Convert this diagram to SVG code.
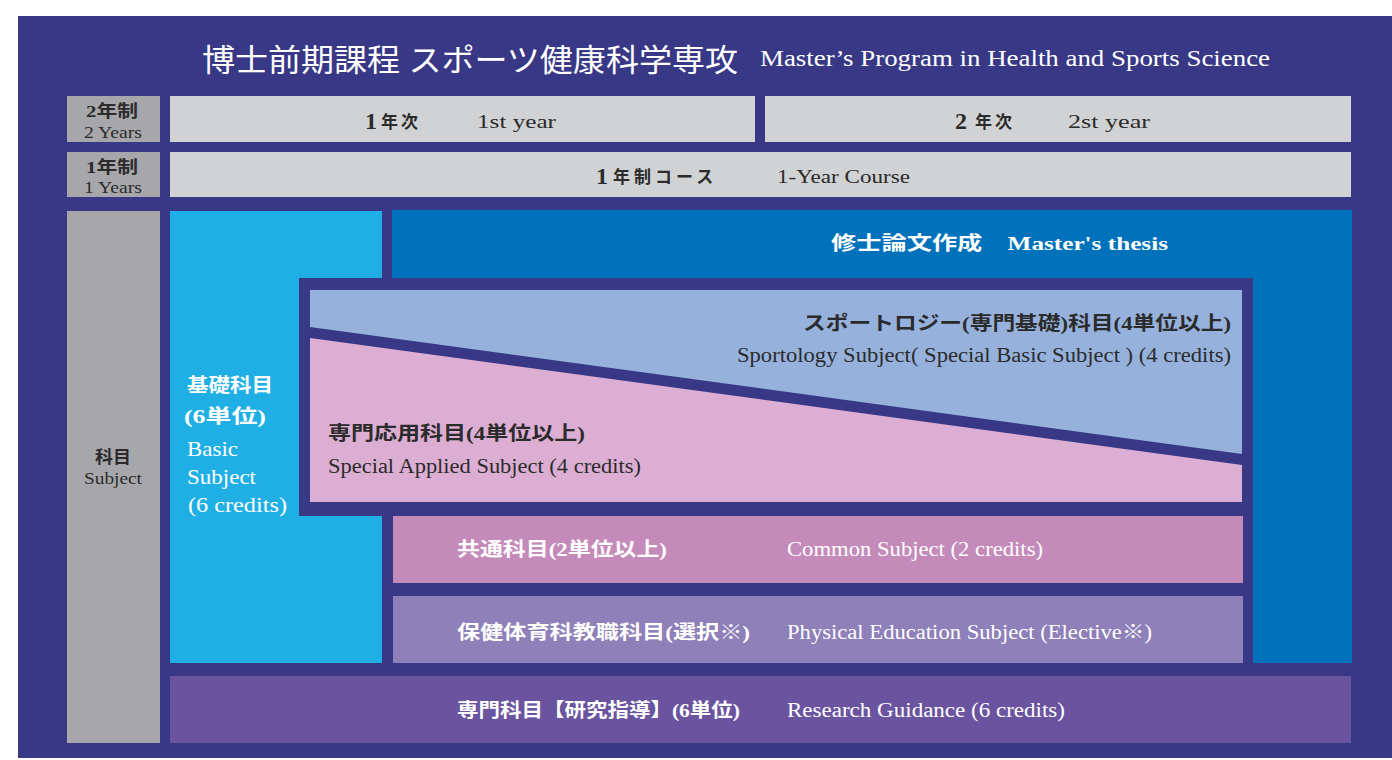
<svg xmlns="http://www.w3.org/2000/svg" width="1392" height="760" viewBox="0 0 1392 760">
<style>
.t{font-family:"Liberation Serif","Noto Sans CJK JP",serif}
.w{fill:#ffffff}
.d{fill:#2b2b2b}
.b{font-weight:bold}
.lbl{fill:#a7a7ab}
.bar{fill:#d1d2d4}
</style>
<rect width="1392" height="760" fill="#ffffff"/>
<rect x="18" y="16" width="1374" height="742" fill="#383886"/>
<g id="title">
<text class="t w" x="202" y="71" font-size="31" textLength="536" lengthAdjust="spacingAndGlyphs">博士前期課程 スポーツ健康科学専攻</text>
<text class="t w" x="760" y="66" font-size="24" textLength="510" lengthAdjust="spacingAndGlyphs">Master’s Program in Health and Sports Science</text>
</g>
<g id="label-2years">
<rect class="lbl" x="67" y="96" width="93" height="46"/>
<text class="t d b" x="112" y="117" font-size="17" text-anchor="middle" textLength="52" lengthAdjust="spacingAndGlyphs">2年制</text>
<text class="t d" x="113" y="138" font-size="16" text-anchor="middle" textLength="58" lengthAdjust="spacingAndGlyphs">2 Years</text>
</g>
<g id="label-1year">
<rect class="lbl" x="67" y="152" width="93" height="45"/>
<text class="t d b" x="112" y="173" font-size="17" text-anchor="middle" textLength="52" lengthAdjust="spacingAndGlyphs">1年制</text>
<text class="t d" x="113" y="193" font-size="16" text-anchor="middle" textLength="58" lengthAdjust="spacingAndGlyphs">1 Years</text>
</g>
<g id="label-subject">
<rect class="lbl" x="67" y="211" width="93" height="532"/>
<text class="t d b" x="113" y="463" font-size="17" text-anchor="middle" textLength="36" lengthAdjust="spacingAndGlyphs">科目</text>
<text class="t d" x="113" y="484" font-size="16" text-anchor="middle" textLength="58" lengthAdjust="spacingAndGlyphs">Subject</text>
</g>
<g id="year1">
<rect class="bar" x="170" y="96" width="585" height="46"/>
<text class="t d b" x="365" y="129" font-size="24">1</text>
<text class="t d b" x="381" y="128" font-size="17" letter-spacing="3">年次</text>
<text class="t d" x="477" y="128" font-size="19" textLength="79" lengthAdjust="spacingAndGlyphs">1st  year</text>
</g>
<g id="year2">
<rect class="bar" x="765" y="96" width="586" height="46"/>
<text class="t d b" x="955" y="129" font-size="24">2</text>
<text class="t d b" x="975" y="128" font-size="17" letter-spacing="3">年次</text>
<text class="t d" x="1068" y="128" font-size="19" textLength="82" lengthAdjust="spacingAndGlyphs">2st  year</text>
</g>
<g id="course1">
<rect class="bar" x="170" y="152" width="1181" height="45"/>
<text class="t d b" x="596" y="184" font-size="24">1</text>
<text class="t d b" x="613" y="183" font-size="17" letter-spacing="4">年制コース</text>
<text class="t d" x="777" y="183" font-size="19" textLength="133" lengthAdjust="spacingAndGlyphs">1-Year Course</text>
</g>
<g id="basic">
<rect x="170" y="211" width="212" height="452" fill="#20afe4"/>
<text class="t w b" x="187" y="392" font-size="19" textLength="86" lengthAdjust="spacingAndGlyphs">基礎科目</text>
<text class="t w b" x="184" y="423" font-size="19" textLength="82" lengthAdjust="spacingAndGlyphs">(6単位)</text>
<text class="t w" x="187" y="456" font-size="21" textLength="51" lengthAdjust="spacingAndGlyphs">Basic</text>
<text class="t w" x="187" y="484" font-size="21" textLength="69" lengthAdjust="spacingAndGlyphs">Subject</text>
<text class="t w" x="188" y="512" font-size="21" textLength="99" lengthAdjust="spacingAndGlyphs">(6 credits)</text>
</g>
<g id="thesis">
<path d="M392 210H1352V663H1253V278H392Z" fill="#0071bb"/>
<text class="t w b" x="831" y="250" font-size="19" textLength="337" lengthAdjust="spacingAndGlyphs">修士論文作成　Master's thesis</text>
</g>
<g id="frame">
<rect x="299" y="278" width="954" height="238" fill="#383886"/>
</g>
<g id="sportology">
<polygon points="310,290 1242,290 1242,454 310,327" fill="#95b1dc"/>
<text class="t d b" x="1231" y="330" font-size="19" text-anchor="end" textLength="428" lengthAdjust="spacingAndGlyphs">スポートロジー(専門基礎)科目(4単位以上)</text>
<text class="t d" x="1231" y="362" font-size="20" text-anchor="end" textLength="494" lengthAdjust="spacingAndGlyphs">Sportology Subject( Special Basic Subject ) (4 credits)</text>
</g>
<g id="applied">
<polygon points="310,338 1242,465 1242,502 310,502" fill="#dcaed3"/>
<text class="t d b" x="328" y="440" font-size="19" textLength="257" lengthAdjust="spacingAndGlyphs">専門応用科目(4単位以上)</text>
<text class="t d" x="328" y="473" font-size="20" textLength="313" lengthAdjust="spacingAndGlyphs">Special Applied Subject (4 credits)</text>
</g>
<g id="common">
<rect x="393" y="516" width="850" height="67" fill="#c48aba"/>
<text class="t w b" x="457" y="556" font-size="19" textLength="210" lengthAdjust="spacingAndGlyphs">共通科目(2単位以上)</text>
<text class="t w" x="787" y="556" font-size="20" textLength="256" lengthAdjust="spacingAndGlyphs">Common Subject (2 credits)</text>
</g>
<g id="physical">
<rect x="393" y="596" width="850" height="67" fill="#8e80b9"/>
<text class="t w b" x="457" y="639" font-size="19" textLength="293" lengthAdjust="spacingAndGlyphs">保健体育科教職科目(選択※)</text>
<text class="t w" x="787" y="639" font-size="20" textLength="365" lengthAdjust="spacingAndGlyphs">Physical Education Subject (Elective※)</text>
</g>
<g id="research">
<rect x="170" y="676" width="1181" height="67" fill="#6a54a0"/>
<text class="t w b" x="457" y="717" font-size="19" textLength="283" lengthAdjust="spacingAndGlyphs">専門科目【研究指導】(6単位)</text>
<text class="t w" x="787" y="717" font-size="20" textLength="278" lengthAdjust="spacingAndGlyphs">Research Guidance (6 credits)</text>
</g>
<g id="connectors"></g>
</svg>
